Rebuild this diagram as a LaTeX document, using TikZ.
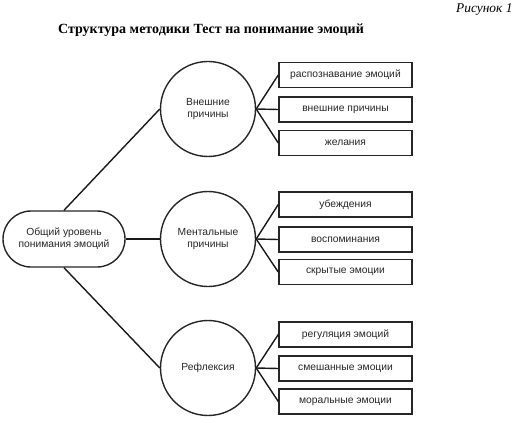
\documentclass[tikz,border=0pt]{standalone}
\usepackage{fontspec}
\setmainfont{Liberation Serif}
\newfontfamily\diagfont{Liberation Sans}
\begin{document}
\begin{tikzpicture}[x=1pt,y=-1pt,
  every node/.style={font=\diagfont\fontsize{10.3}{12}\selectfont, text=black!85},
  circ/.style={draw=black!85, line width=1.4pt, circle, minimum size=95pt, inner sep=0pt, align=center},
  leaf/.style={draw=black!85, line width=1.5pt, rectangle, minimum width=133pt, minimum height=25pt, inner sep=0pt},
  conn/.style={draw=black!90, line width=1.4pt}]
\useasboundingbox (0,0) rectangle (526,422);
\node[anchor=east, font=\itshape\fontsize{13.4}{15}\selectfont, text=black] (fig) at (516,10) {Рисунок 1};
\node[font=\bfseries\fontsize{14}{16}\selectfont, text=black] (title) at (211,30) {Структура методики Тест на понимание эмоций};
\node[draw=black!85, line width=1.4pt, rounded corners=28pt, minimum width=122pt, minimum height=56pt, align=center, inner sep=0pt] (root) at (64,239) {Общий уровень\\понимания эмоций};
\node[circ] (c1) at (208,109) {Внешние\\причины};
\node[circ] (c2) at (208,239) {Ментальные\\причины};
\node[circ] (c3) at (208,368) {Рефлексия};
\node[leaf] (a1) at (345.5,75) {распознавание эмоций};
\node[leaf] (a2) at (345.5,109.5) {внешние причины};
\node[leaf] (a3) at (345.5,143) {желания};
\node[leaf] (b1) at (345.5,204.5) {убеждения};
\node[leaf] (b2) at (345.5,239.5) {воспоминания};
\node[leaf] (b3) at (345.5,272) {скрытые эмоции};
\node[leaf] (d1) at (345.5,334.5) {регуляция эмоций};
\node[leaf] (d2) at (345.5,368.5) {смешанные эмоции};
\node[leaf] (d3) at (345.5,401.5) {моральные эмоции};
\draw[conn] (root.north) -- (c1.west);
\draw[conn] (root.east) -- (c2.west);
\draw[conn] (root.south) -- (c3.west);
\foreach \c/\a/\b/\d in {c1/a1/a2/a3, c2/b1/b2/b3, c3/d1/d2/d3} {
  \draw[conn] (\c.east) -- (\a.west);
  \draw[conn] (\c.east) -- (\b.west);
  \draw[conn] (\c.east) -- (\d.west);
}
\end{tikzpicture}
\end{document}
